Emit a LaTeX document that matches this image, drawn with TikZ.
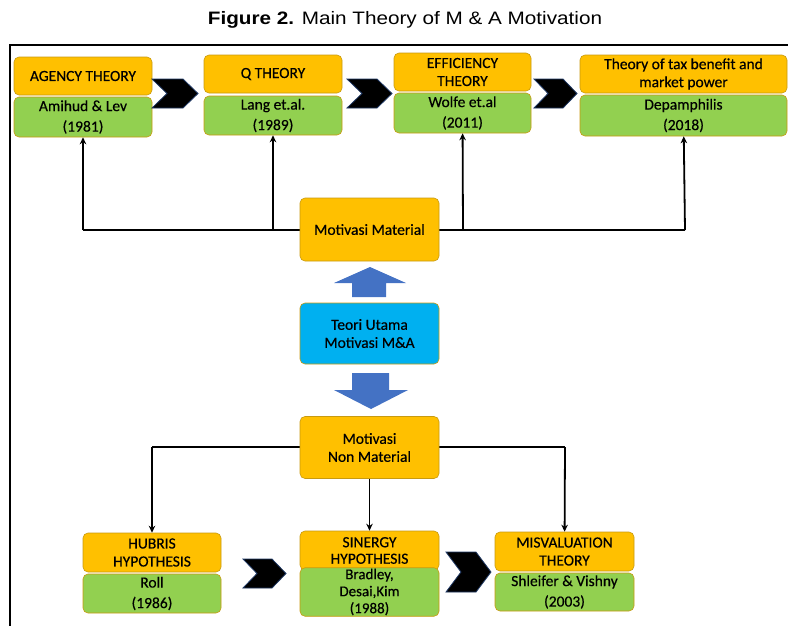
\documentclass[tikz,border=0pt]{standalone}
\usepackage{fontspec}
\setmainfont[FakeBold=0.4]{Carlito}
\newfontfamily\titlefont[FakeStretch=1.15]{Liberation Sans}
\usetikzlibrary{arrows.meta}
\definecolor{gold}{HTML}{FFC000}
\definecolor{leaf}{HTML}{92D050}
\definecolor{sky}{HTML}{00B0F0}
\definecolor{steel}{HTML}{4472C4}
\definecolor{rim}{HTML}{C89A10}
\definecolor{navy}{HTML}{1F3864}
\begin{document}
\begin{tikzpicture}[x=1pt,y=-1pt,
  head/.style={draw=rim, fill=gold, rounded corners=5pt, line width=0.6pt, align=center, inner sep=1pt, font=\fontsize{15.5}{18}\selectfont},
  cite/.style={draw=rim, fill=leaf, rounded corners=5pt, line width=0.6pt, align=center, inner sep=1pt, font=\fontsize{15.5}{20.5}\selectfont},
  chev/.style={fill=black, draw=navy, line width=0.8pt},
  fat/.style={fill=steel, draw=none},
  link/.style={draw, line width=1.8pt, -{Stealth[length=7pt,width=6.5pt]}}]
\clip (0,0) rectangle (788,625);
\node[font=\titlefont\fontsize{18}{20}\selectfont] (0) at (405,20) {\textbf{Figure 2.} Main Theory of M \& A Motivation};
\draw[line width=2pt] (800,45) -- (10,45) -- (10,640);

% junctions
\coordinate (j1) at (83,230);
\coordinate (j2) at (273,230);
\coordinate (j3) at (463,230);
\coordinate (j4) at (685,230);
\coordinate (k1) at (152,447);
\coordinate (k3) at (565,447);
\draw[line width=1.8pt] (j1) -- (j4);
\draw[line width=1.8pt] (k1) -- (k3);

% top row
\node[head, minimum width=138pt, minimum height=38pt] (1) at (83,76) {AGENCY THEORY};
\node[cite, minimum width=138pt, minimum height=40pt] (2) at (83,117) {Amihud \& Lev\\(1981)};
\node[head, minimum width=138pt, minimum height=38pt] (3) at (273,74) {Q THEORY};
\node[cite, minimum width=138pt, minimum height=39pt] (4) at (273,115.5) {Lang et.al.\\(1989)};
\node[head, minimum width=137pt, minimum height=38pt] (5) at (462.5,72) {EFFICIENCY\\THEORY};
\node[cite, minimum width=137pt, minimum height=40pt] (6) at (462.5,113) {Wolfe et.al\\(2011)};
\node[head, minimum width=207pt, minimum height=38pt] (7) at (683.5,74) {Theory of tax benefit and\\market power};
\node[cite, minimum width=207pt, minimum height=41pt] (8) at (683.5,115.5) {Depamphilis\\(2018)};

\fill[chev] (152,79) -- (183,79) -- (198,93.5) -- (183,108) -- (152,108) -- (167,93.5) -- cycle;
\fill[chev] (347,79) -- (377,79) -- (392,93.5) -- (377,108) -- (347,108) -- (362,93.5) -- cycle;
\fill[chev] (534,79) -- (563,79) -- (577,93.5) -- (563,108) -- (534,108) -- (548,93.5) -- cycle;

% centre column
\node[head, minimum width=139pt, minimum height=63pt] (9) at (369.5,229.5) {Motivasi Material};
\node[head, fill=sky, minimum width=139pt, minimum height=61pt] (10) at (369.5,333.5) {Teori Utama\\Motivasi M\&A};
\node[head, minimum width=139pt, minimum height=62pt] (11) at (369.5,447.5) {Motivasi\\Non Material};

\fill[fat] (370,267) -- (406,283) -- (386,283) -- (386,297) -- (352,297) -- (352,283) -- (334,283) -- cycle;
\fill[fat] (352,373) -- (389,373) -- (389,390) -- (408,390) -- (371,409) -- (334,390) -- (352,390) -- cycle;

% bottom row
\node[head, minimum width=138pt, minimum height=39pt] (12) at (152,552.5) {HUBRIS\\HYPOTHESIS};
\node[cite, minimum width=138pt, minimum height=39pt] (13) at (152,593.5) {Roll\\(1986)};
\node[head, minimum width=139pt, minimum height=39pt, font=\fontsize{15.5}{16.5}\selectfont] (14) at (369.5,550.5) {SINERGY\\HYPOTHESIS};
\node[cite, minimum width=139pt, minimum height=38pt, font=\fontsize{15}{17}\selectfont] (15) at (369.5,592) {Bradley,\\Desai,Kim\\(1988)};
\node[head, minimum width=139pt, minimum height=39pt] (16) at (564.5,551.5) {MISVALUATION\\THEORY};
\node[cite, minimum width=139pt, minimum height=38pt] (17) at (564.5,592) {Shleifer \& Vishny\\(2003)};

\fill[chev] (243,559) -- (272,559) -- (286,573.5) -- (272,588) -- (243,588) -- (257,573.5) -- cycle;
\fill[chev] (446,552) -- (476,552) -- (491,572) -- (476,592) -- (446,592) -- (461,572) -- cycle;

\path[link] (j1) -- (2);
\path[link] (j2) -- (4);
\path[link] (j3) -- (6);
\path[link] (j4) -- (8);
\path[link] (k1) -- (12);
\path[link] (11) -- (14);
\path[link] (k3) -- (16);
\end{tikzpicture}
\end{document}
